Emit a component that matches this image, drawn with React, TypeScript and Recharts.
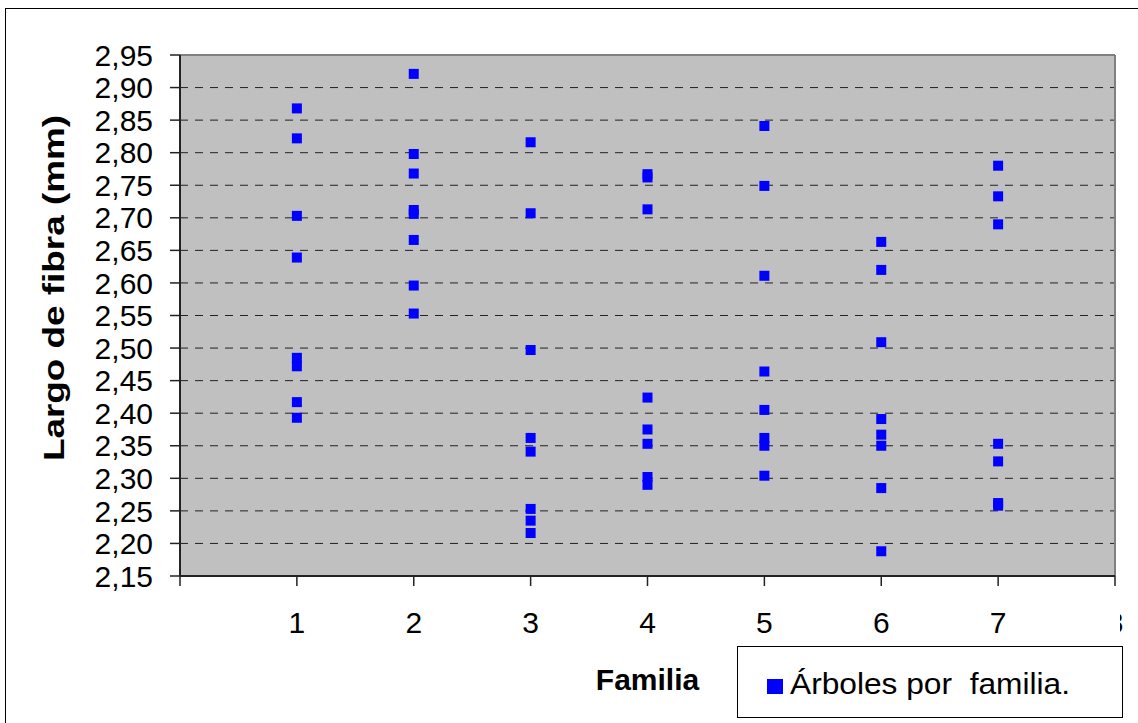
import {
  ScatterChart,
  Scatter,
  XAxis,
  YAxis,
  CartesianGrid,
  ReferenceLine,
  Legend
} from 'recharts'

// Largo de fibra (mm) de los árboles medidos en cada familia
const familias = [1, 2, 3, 4, 5, 6, 7]
const familia1 = [2.868, 2.822, 2.703, 2.639, 2.485, 2.472, 2.417, 2.393]
const familia2 = [2.921, 2.798, 2.768, 2.712, 2.706, 2.666, 2.596, 2.553]
const familia3 = [2.816, 2.707, 2.497, 2.362, 2.341, 2.253, 2.235, 2.216]
const familia4 = [2.767, 2.762, 2.713, 2.424, 2.375, 2.353, 2.302, 2.29]
const familia5 = [2.841, 2.749, 2.611, 2.464, 2.405, 2.362, 2.35, 2.304]
const familia6 = [2.663, 2.62, 2.509, 2.391, 2.367, 2.35, 2.285, 2.188]
const familia7 = [2.78, 2.733, 2.69, 2.353, 2.326, 2.262, 2.258]

const yTicks = [2.15, 2.2, 2.25, 2.3, 2.35, 2.4, 2.45, 2.5, 2.55, 2.6, 2.65, 2.7, 2.75, 2.8, 2.85, 2.9, 2.95]
const xTicks = [0, 1, 2, 3, 4, 5, 6, 7, 8]

const valores = [familia1, familia2, familia3, familia4, familia5, familia6, familia7]
const puntos = familias.flatMap((f, i) => valores[i].map(v => ({ familia: f, largo: v })))

const FONT = '"Liberation Sans", Arial, sans-serif'
const AZUL = '#0000FF'

const Cuadro = ({ cx, cy }: any) => (
  <rect x={cx - 5} y={cy - 5} width={10} height={10} fill={AZUL} />
)

const TickX = ({ x, y, payload }: any) => {
  if (payload.value === 0) return null
  const texto = (
    <text x={x} y={y} dy="0.71em" textAnchor="middle" fontSize={30} fill="#000" fontFamily={FONT}>
      {payload.value}
    </text>
  )
  if (payload.value === 8) {
    // el último rótulo queda cortado por el borde del gráfico
    return (
      <g>
        <defs>
          <clipPath id="corte8">
            <rect x={x + 5} y={y - 5} width={40} height={50} />
          </clipPath>
        </defs>
        <g clipPath="url(#corte8)">{texto}</g>
      </g>
    )
  }
  return texto
}

const TickY = ({ x, y, payload }: any) => (
  <text x={x} y={y} dy="0.355em" textAnchor="end" fontSize={30} fill="#000" fontFamily={FONT}>
    {payload.value.toFixed(2).replace('.', ',')}
  </text>
)

const Leyenda = () => (
  <div
    style={{
      boxSizing: 'border-box',
      width: 386,
      height: 72,
      border: '1.5px solid #000',
      background: '#fff',
      position: 'relative',
      fontFamily: FONT
    }}
  >
    <svg width={383} height={69} style={{ position: 'absolute', left: 0, top: 0 }}>
      <rect x={29} y={32} width={16} height={15} fill={AZUL} />
      <text
        x={52}
        y={47}
        fontSize={30}
        fill="#000"
        fontFamily={FONT}
        style={{ whiteSpace: 'pre' }}
        textLength={280}
        lengthAdjust="spacingAndGlyphs"
      >
        {'Árboles por  familia.'}
      </text>
    </svg>
  </div>
)

export default function App() {
  return (
    <div style={{ position: 'absolute', left: 0, top: 0, width: 1138, height: 723, background: '#fff', overflow: 'hidden' }}>
      <div
        style={{
          position: 'absolute',
          left: 5,
          top: 8,
          width: 1200,
          height: 800,
          borderLeft: '1.5px solid #000',
          borderTop: '1.5px solid #000'
        }}
      />
      <ScatterChart width={1138} height={723} margin={{ top: 55, right: 23, bottom: 0, left: 0 }}>
        <CartesianGrid
          vertical={false}
          fill="#C0C0C0"
          stroke="#222"
          strokeDasharray="8 7"
          fillOpacity={1}
        />
        <XAxis
          type="number"
          dataKey="familia"
          domain={[0, 8]}
          ticks={xTicks}
          interval={0}
          height={147}
          tickSize={10}
          tickMargin={26}
          tick={<TickX />}
          axisLine={{ stroke: '#222', strokeWidth: 2 }}
          tickLine={{ stroke: '#222', strokeWidth: 1.5 }}
          label={{
            value: 'Familia',
            position: 'insideBottom',
            offset: 33,
            fontSize: 30,
            fontWeight: 'bold',
            fill: '#000',
            fontFamily: FONT
          }}
        />
        <YAxis
          type="number"
          dataKey="largo"
          domain={[2.15, 2.95]}
          ticks={yTicks}
          interval={0}
          width={180}
          tickSize={10}
          tickMargin={17}
          tick={<TickY />}
          axisLine={{ stroke: '#222', strokeWidth: 2 }}
          tickLine={{ stroke: '#222', strokeWidth: 1.5 }}
          label={() => (
            <text
              x={64}
              y={288}
              transform="rotate(-90, 64, 288)"
              textAnchor="middle"
              fontSize={30}
              fontWeight="bold"
              fill="#000"
              fontFamily={FONT}
              textLength={346}
              lengthAdjust="spacingAndGlyphs"
            >
              Largo de fibra (mm)
            </text>
          )}
        />
        <ReferenceLine y={2.95} stroke="#808080" strokeWidth={2} />
        <ReferenceLine x={8} stroke="#808080" strokeWidth={2} />
        <Legend
          layout="horizontal"
          verticalAlign="middle"
          align="center"
          content={<Leyenda />}
          wrapperStyle={{ left: 737, top: 646, width: 386, height: 72 }}
        />
        <Scatter
          name="Árboles por  familia."
          data={puntos}
          fill={AZUL}
          shape={<Cuadro />}
          isAnimationActive={false}
        />
      </ScatterChart>
    </div>
  )
}
